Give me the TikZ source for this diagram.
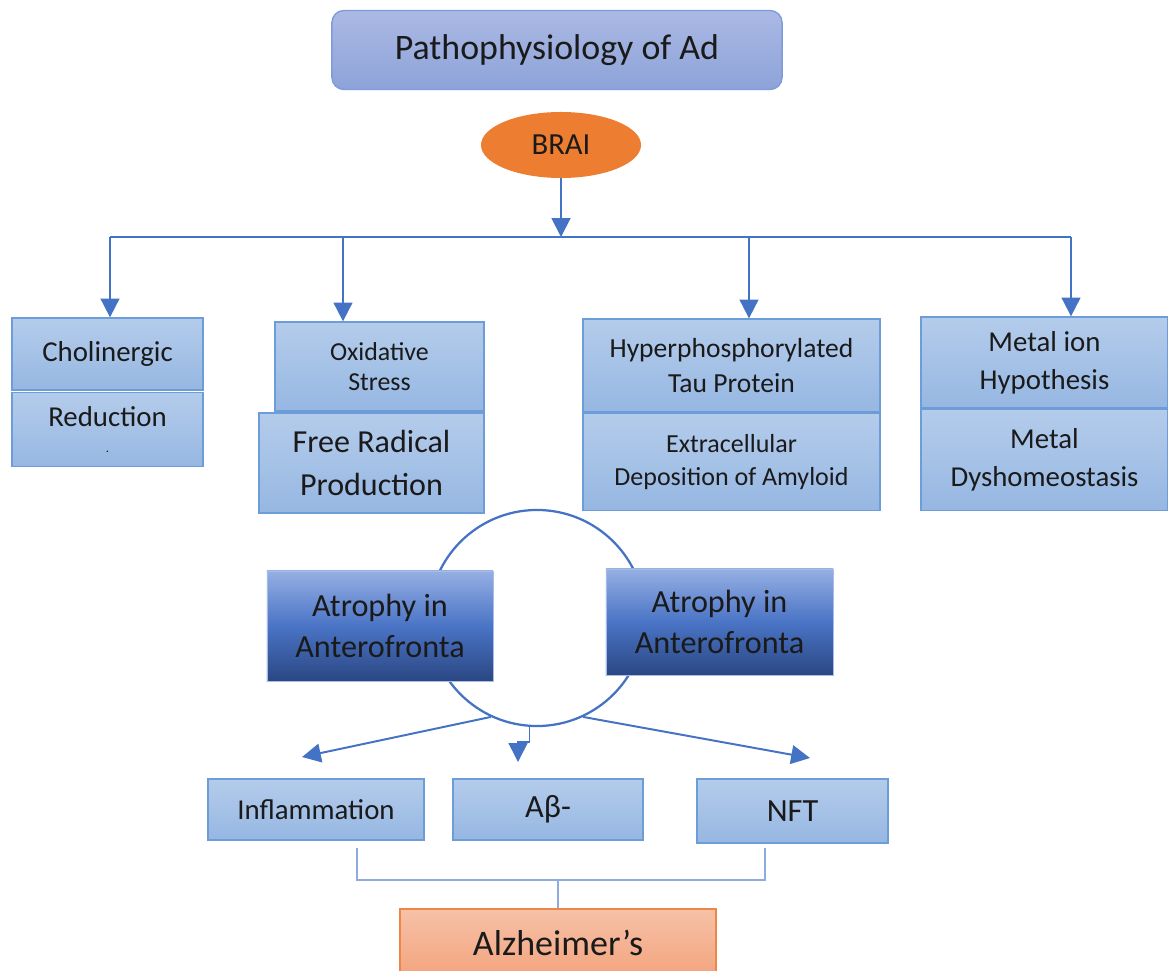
\documentclass[tikz,border=0pt]{standalone}
\usepackage{fontspec}
\setmainfont{Carlito}
\usetikzlibrary{arrows.meta,positioning,shapes.geometric}
\definecolor{ink}{HTML}{1A1A1A}
\definecolor{boxtop}{HTML}{B4CCEB}
\definecolor{boxbot}{HTML}{96B7E2}
\definecolor{boxline}{HTML}{6C9DD9}
\definecolor{headtop}{HTML}{ABB9E4}
\definecolor{headbot}{HTML}{8DA3D9}
\definecolor{headline}{HTML}{7F9BDB}
\definecolor{brainfill}{HTML}{ED7D31}
\definecolor{atrtop}{HTML}{95AFE3}
\definecolor{atrmid}{HTML}{4A74C6}
\definecolor{atrbot}{HTML}{2B4783}
\definecolor{atrline}{HTML}{A7BCE6}
\definecolor{alztop}{HTML}{F6C1A7}
\definecolor{alzbot}{HTML}{F3A47E}
\definecolor{alzline}{HTML}{EE8646}
\definecolor{lnk}{HTML}{4472C4}
\definecolor{brk}{HTML}{8FAADC}
\newcommand{\fsize}[2]{\fontsize{#1}{#2}\selectfont}

\begin{document}
\begin{tikzpicture}[x=0.025cm, y=-0.025cm,
    box/.style={draw=boxline, line width=0.9pt, top color=boxtop, bottom color=boxbot,
                align=center, inner sep=0pt, text=ink, font=\fsize{20.5}{27}},
    headbox/.style={draw=headline, line width=1pt, rounded corners=0.3cm,
                    top color=headtop, bottom color=headbot, text=ink,
                    minimum width=11.25cm, minimum height=1.975cm, font=\fsize{25.5}{30}},
    brain/.style={ellipse, fill=brainfill, inner sep=0pt, text=ink,
                  minimum width=4cm, minimum height=1.65cm, font=\fsize{21.8}{26}},
    atro/.style={draw=atrline, line width=0.6pt, top color=atrtop, bottom color=atrbot,
                 middle color=atrmid, align=center, inner sep=0pt, text=ink,
                 font=\fsize{22.9}{29}},
    alzbox/.style={draw=alzline, line width=1pt, top color=alztop, bottom color=alzbot,
                   inner sep=0pt, text=ink, font=\fsize{25.6}{30}},
    ring/.style={circle, draw=lnk, line width=1.6pt, minimum size=5.4cm, inner sep=0pt},
    arr/.style={-{Triangle[length=0.47cm, width=0.47cm]}, line width=1.4pt, lnk},
    bus/.style={line width=1.4pt, lnk},
    bracket/.style={line width=1.4pt, brk}
  ]
  \useasboundingbox (0,0) rectangle (1168,971);
  \clip (0,0) rectangle (1168,971);

  \node[headbox] (head) at (557,50) {Pathophysiology of Ad};
  \node[brain] (brai) at (561,145) {BRAI};

  \node[box, minimum width=4.775cm, minimum height=1.8cm] (chol) at (107.5,354) {Cholinergic};
  \node[box, minimum width=4.775cm, minimum height=1.85cm, below=1pt of chol] (redu) {Reduction\\[-9pt]{\fsize{9}{9}.}};
  \node[box, minimum width=5.225cm, minimum height=2.225cm, font=\fsize{18.4}{21}] (oxid) at (379.5,366.5) {Oxidative\\Stress};
  \node[box, minimum width=5.625cm, minimum height=2.5cm, font=\fsize{22.8}{30}] (free) at (371.5,463) {Free Radical\\Production};
  \node[box, minimum width=7.425cm, minimum height=2.325cm, font=\fsize{19.6}{25.5}] (tau) at (731.5,365.5) {Hyperphosphorylated\\Tau Protein};
  \node[box, minimum width=7.425cm, minimum height=2.425cm, font=\fsize{18.5}{23.5}, below=0pt of tau] (amyl) {Extracellular\\Deposition of Amyloid};
  \node[box, minimum width=6.175cm, minimum height=2.275cm] (metal) at (1044.5,362.5) {Metal ion\\Hypothesis};
  \node[box, minimum width=6.175cm, minimum height=2.525cm, below=0pt of metal] (dysh) {Metal\\Dyshomeostasis};

  \coordinate (b1) at (110,237);
  \coordinate (b2) at (343,237);
  \coordinate (b3) at (749,237);
  \coordinate (b4) at (1071,237);
  \draw[bus] (b1) -- (b4);
  \draw[arr] (brai.south) -- (brai.south |- b1);
  \draw[arr] (b1) -- (b1 |- chol.north);
  \draw[arr] (b2) -- (b2 |- oxid.north);
  \draw[arr] (b3) -- (b3 |- tau.north);
  \draw[arr] (b4) -- (b4 |- metal.north);

  \node[ring] (ring) at (537,618) {};
  \node[atro, minimum width=5.65cm, minimum height=2.75cm] (atrl) at (380,626) {Atrophy in\\Anterofronta};
  \node[atro, minimum width=5.675cm, minimum height=2.65cm] (atrr) at (719.5,622) {Atrophy in\\Anterofronta};

  \node[box, minimum width=5.4cm, minimum height=1.525cm] (infl) at (316,809.5) {Inflammation};
  \node[box, minimum width=4.75cm, minimum height=1.525cm, font=\fsize{23}{28}] (abeta) at (548,809.5) {Aβ-};
  \node[box, minimum width=4.775cm, minimum height=1.6cm, font=\fsize{23}{28}] (nft) at (792.5,811) {NFT};
  \node[alzbox, minimum width=7.9cm, minimum height=1.7cm] (alz) at (558,943) {Alzheimer’s};

  \coordinate (tl) at (302,757);
  \coordinate (tm) at (518,762);
  \coordinate (tr) at (810,758);
  \draw[arr] (ring.245) -- (tl);
  \draw[arr, line width=1.1pt] (ring.266) -- ++(0,15) -| (tm);
  \draw[arr] (ring.295) -- (tr);

  \coordinate (il) at (357,848);
  \coordinate (nl) at (765,848);
  \coordinate (j) at (alz.north |- 0,880);
  \draw[bracket] (il) |- (j) -| (nl);
  \draw[bracket] (j) -- (alz.north);
\end{tikzpicture}
\end{document}
